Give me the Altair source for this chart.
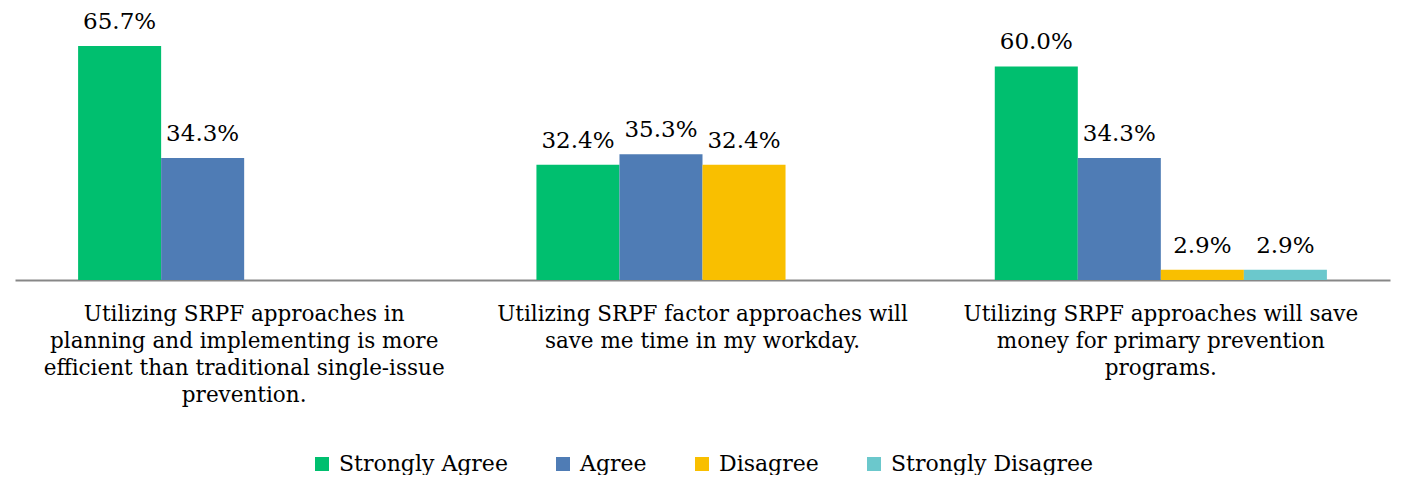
import altair as alt
import pandas as pd

categories = [
    "Utilizing SRPF approaches in|planning and implementing is more|efficient than traditional single-issue|prevention.",
    "Utilizing SRPF factor approaches will|save me time in my workday.",
    "Utilizing SRPF approaches will save|money for primary prevention|programs.",
]
series = ["Strongly Agree", "Agree", "Disagree", "Strongly Disagree"]
colors = ["#00BF6F", "#4F7CB5", "#F9BF00", "#6BC8CC"]

strongly_agree = [65.7, 32.4, 60.0]
agree = [34.3, 35.3, 34.3]
disagree = [None, 32.4, 2.9]
strongly_disagree = [None, None, 2.9]

rows = []
for vals, s in zip([strongly_agree, agree, disagree, strongly_disagree], series):
    for c, v in zip(categories, vals):
        if v is not None:
            rows.append({"Question": c, "Response": s, "Value": v})
df = pd.DataFrame(rows)

FONT = "DejaVu Serif"

x = alt.X("Question:N", sort=categories,
          scale=alt.Scale(paddingInner=0, paddingOuter=0),
          axis=alt.Axis(title=None, labelExpr="split(datum.label, '|')",
                        labelAngle=0, labelFont=FONT, labelFontSize=21.5,
                        labelColor="#000000", labelLineHeight=27,
                        labelPadding=23, labelOverlap=False, labelBound=False,
                        labelLimit=700,
                        ticks=False, domainColor="#878787", domainWidth=2))
xo = alt.XOffset("Response:N", sort=series,
                 scale=alt.Scale(domain=series, paddingInner=0, paddingOuter=0.76))
y = alt.Y("Value:Q", scale=alt.Scale(domain=[0, 76.4], nice=False), axis=None)

bars = alt.Chart(df).mark_bar().encode(
    x=x, xOffset=xo, y=y,
    color=alt.Color("Response:N", sort=series,
                    scale=alt.Scale(domain=series, range=colors),
                    legend=alt.Legend(title=None, orient="none", direction="horizontal",
                                      legendX=296, legendY=445,
                                      symbolType="square", symbolSize=196,
                                      labelFont=FONT, labelFontSize=22,
                                      labelColor="#000000", columnPadding=44,
                                      labelOffset=6,
                                      symbolStrokeWidth=0, labelLimit=300)),
)

labels = alt.Chart(df).transform_calculate(
    Label="format(datum.Value, '.1f') + '%'"
).mark_text(baseline="bottom", dy=-12, font=FONT, fontSize=23, color="#000000").encode(
    x=x, xOffset=xo, y=y, text="Label:N"
)

chart = (bars + labels).properties(
    width=1375, height=272,
    padding={"left": 7, "top": 0, "right": 10, "bottom": 0},
    background="#ffffff",
).configure_view(stroke=None)

chart.save("out.html", embed_options={"renderer": "svg", "actions": False})
